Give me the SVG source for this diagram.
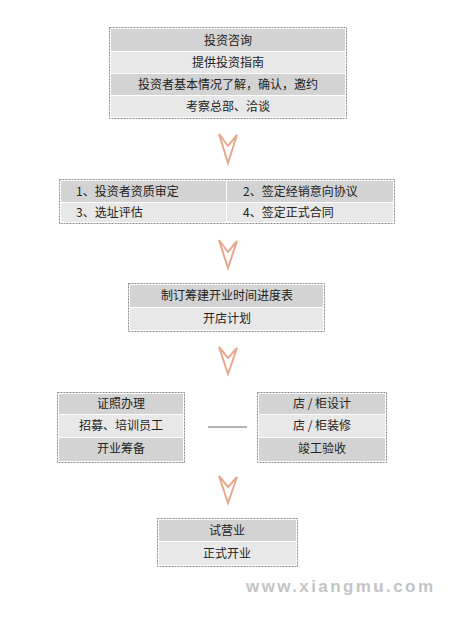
<svg xmlns="http://www.w3.org/2000/svg" width="463" height="621" viewBox="0 0 463 621">
<defs>
<style>
.box{fill:#fff;stroke:#8a8a8a;stroke-width:1;stroke-dasharray:2 1}
.d{fill:#d3d3d3}
.l{fill:#e8e8e8}
.t{font-family:"Noto Sans CJK SC","Noto Sans CJK JP",sans-serif;font-size:12px;fill:#222}
.c{text-anchor:middle}
.arr{fill:#fff;stroke:#e6a98c;stroke-width:2;stroke-linejoin:miter}
.conn{stroke:#9a9a9a;stroke-width:1.5;fill:none}
</style>
</defs>
<rect width="463" height="621" fill="#fff"/>
<g id="node1">
<rect class="box" x="109.5" y="27.5" width="237" height="91"/>
<rect class="d" x="111" y="29" width="234" height="22"/>
<rect class="l" x="111" y="52" width="234" height="21"/>
<rect class="d" x="111" y="74" width="234" height="21"/>
<rect class="l" x="111" y="96" width="234" height="21"/>
<text class="t c" x="228" y="45">投资咨询</text>
<text class="t c" x="228" y="67">提供投资指南</text>
<text class="t c" x="228" y="89">投资者基本情况了解，确认，邀约</text>
<text class="t c" x="228" y="111">考察总部、洽谈</text>
</g>
<g id="node2">
<rect class="box" x="59.5" y="179.5" width="335" height="44"/>
<rect class="d" x="61" y="181" width="165" height="21"/>
<rect class="d" x="227" y="181" width="166" height="21"/>
<rect class="l" x="61" y="203" width="165" height="19"/>
<rect class="l" x="227" y="203" width="166" height="19"/>
<text class="t" x="76" y="196">1、投资者资质审定</text>
<text class="t" x="243" y="196">2、签定经销意向协议</text>
<text class="t" x="76" y="217">3、选址评估</text>
<text class="t" x="243" y="217">4、签定正式合同</text>
</g>
<g id="node3">
<rect class="box" x="128.5" y="283.5" width="196" height="48"/>
<rect class="d" x="130" y="285" width="193" height="22"/>
<rect class="l" x="130" y="308" width="193" height="22"/>
<text class="t c" x="227" y="300">制订筹建开业时间进度表</text>
<text class="t c" x="227" y="323">开店计划</text>
</g>
<g id="node4">
<rect class="box" x="57.5" y="392.5" width="127" height="70"/>
<rect class="d" x="59" y="394" width="124" height="20"/>
<rect class="l" x="59" y="415" width="124" height="22"/>
<rect class="d" x="59" y="438" width="124" height="23"/>
<text class="t c" x="121" y="408">证照办理</text>
<text class="t c" x="121" y="430">招募、培训员工</text>
<text class="t c" x="121" y="453">开业筹备</text>
</g>
<g id="node5">
<rect class="box" x="257.5" y="392.5" width="129" height="70"/>
<rect class="d" x="259" y="394" width="126" height="20"/>
<rect class="l" x="259" y="415" width="126" height="22"/>
<rect class="d" x="259" y="438" width="126" height="23"/>
<text class="t c" x="322" y="408">店 / 柜设计</text>
<text class="t c" x="322" y="430">店 / 柜装修</text>
<text class="t c" x="322" y="453">竣工验收</text>
</g>
<g id="node6">
<rect class="box" x="157.5" y="518.5" width="140" height="48"/>
<rect class="d" x="159" y="520" width="137" height="21"/>
<rect class="l" x="159" y="542" width="137" height="23"/>
<text class="t c" x="227" y="535">试营业</text>
<text class="t c" x="227" y="558">正式开业</text>
</g>
<g id="connectors">
<path class="arr" d="M219,134 L228,146 L237,135 L228,163 Z"/>
<path class="arr" d="M219,240 L228,252 L237,241 L228,268 Z"/>
<path class="arr" d="M219,347 L228,358 L237,348 L228,374 Z"/>
<path class="arr" d="M219,476 L228,487 L237,477 L228,503 Z"/>
<line class="conn" x1="208" y1="427" x2="247" y2="427"/>
</g>
<text x="246" y="592" font-family="'Liberation Sans',Arial,sans-serif" font-weight="bold" font-size="17" fill="#c4c4c4" textLength="187" lengthAdjust="spacing">www.xiangmu.com</text>
</svg>
